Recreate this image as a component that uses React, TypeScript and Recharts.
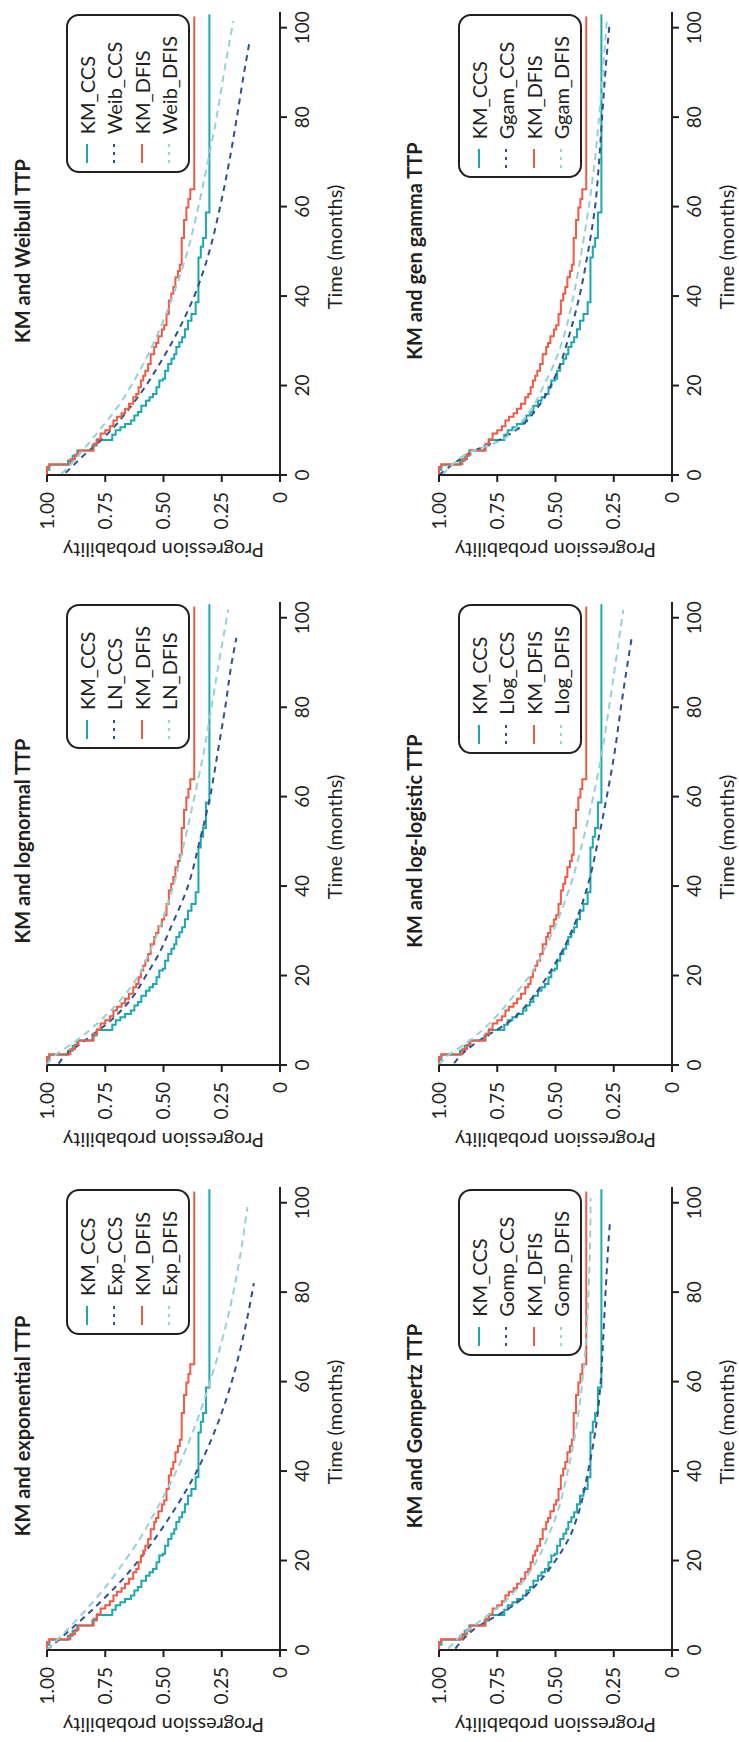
import { LineChart, Line, XAxis, YAxis, Legend } from "recharts";

type Pt = [number, number];

const INK = "#231f20";
const TEAL = "#1ba8ae";
const NAVY = "#2f4f8f";
const RED = "#ef5b45";
const SKY = "#97d0d7";

const timeTicks = [0, 20, 40, 60, 80, 100];
const probTicks = [0, 0.25, 0.5, 0.75, 1];

// Kaplan-Meier steps, same in all six panels
const kmCcs: Pt[] = [
  [0, 1], [1.2, 0.99], [2.3, 0.91], [3.2, 0.89], [4.3, 0.87], [5.5, 0.805], [6.6, 0.787],
  [7.8, 0.72], [9, 0.705], [10, 0.685], [10.7, 0.665], [11.4, 0.64], [12.2, 0.625],
  [13.3, 0.61], [14.1, 0.595], [15.5, 0.575], [16.6, 0.56], [17.4, 0.545], [18.1, 0.53],
  [19.6, 0.518], [21.1, 0.503], [21.5, 0.493], [23.3, 0.48], [24.8, 0.466], [26, 0.454],
  [27, 0.445], [28.6, 0.432], [29.7, 0.42], [30.8, 0.408], [32.6, 0.395], [34.5, 0.38],
  [36, 0.362], [38.6, 0.35], [48.6, 0.34], [51, 0.33], [53, 0.318], [58.7, 0.303], [103, 0.303],
];
const kmDfis: Pt[] = [
  [0, 1], [1.8, 0.99], [2.4, 0.9], [3.5, 0.88], [4.5, 0.865], [5.5, 0.8], [7, 0.785],
  [8, 0.77], [9.3, 0.75], [10, 0.73], [10.9, 0.715], [12.2, 0.7], [13, 0.68], [13.8, 0.665],
  [14.8, 0.648], [15.9, 0.63], [17.4, 0.617], [18.1, 0.607], [19.6, 0.597], [21.1, 0.587],
  [22.2, 0.578], [23.3, 0.566], [24.8, 0.555], [27, 0.54], [28.6, 0.532], [29.5, 0.522],
  [31, 0.507], [32.5, 0.497], [33.5, 0.487], [36, 0.477], [39, 0.467], [40.5, 0.458],
  [42, 0.449], [44.2, 0.438], [45.6, 0.43], [47, 0.422], [53, 0.412], [57, 0.402],
  [59.8, 0.393], [61.7, 0.385], [63.9, 0.368], [102.5, 0.368],
];

// fitted curves
const expCcs: Pt[] = [
  [0, 1], [5, 0.89], [10, 0.785], [15, 0.69], [20, 0.607], [25, 0.535], [30, 0.47],
  [40, 0.357], [50, 0.272], [60, 0.207], [70, 0.158], [82, 0.112],
];
const expDfis: Pt[] = [
  [0, 1], [5, 0.905], [10, 0.815], [15, 0.735], [20, 0.665], [25, 0.6], [30, 0.545],
  [40, 0.445], [50, 0.365], [60, 0.3], [70, 0.245], [80, 0.2], [90, 0.165], [99, 0.14],
];
const lnCcs: Pt[] = [
  [0.3, 0.95], [2, 0.925], [5, 0.85], [10, 0.725], [15, 0.635], [20, 0.575], [25, 0.518],
  [30, 0.475], [40, 0.395], [50, 0.345], [60, 0.3], [70, 0.267], [80, 0.235], [90, 0.207],
  [95.5, 0.187],
];
const lnDfis: Pt[] = [
  [0, 1], [2, 0.97], [5, 0.885], [10, 0.77], [15, 0.677], [20, 0.607], [25, 0.562],
  [30, 0.522], [40, 0.458], [50, 0.41], [60, 0.367], [70, 0.327], [80, 0.294], [90, 0.262],
  [101.8, 0.222],
];
const weibCcs: Pt[] = [
  [0.5, 0.92], [2, 0.89], [5, 0.83], [7, 0.785], [10, 0.725], [15, 0.645], [20, 0.575],
  [25, 0.515], [30, 0.46], [40, 0.368], [50, 0.303], [60, 0.257], [70, 0.218], [80, 0.185],
  [90, 0.154], [96.5, 0.132],
];
const weibDfis: Pt[] = [
  [0.2, 0.94], [2, 0.905], [5, 0.855], [10, 0.775], [15, 0.7], [20, 0.638], [25, 0.585],
  [30, 0.538], [40, 0.46], [50, 0.397], [60, 0.35], [70, 0.31], [80, 0.272], [90, 0.24],
  [101.5, 0.2],
];
const gompCcs: Pt[] = [
  [0.3, 0.93], [3, 0.885], [5, 0.84], [8, 0.74], [10, 0.68], [15, 0.575], [20, 0.5],
  [25, 0.442], [30, 0.405], [40, 0.36], [50, 0.326], [60, 0.306], [70, 0.295], [80, 0.285],
  [90, 0.274], [96, 0.266],
];
const gompDfis: Pt[] = [
  [0.3, 0.96], [3, 0.91], [5, 0.862], [8, 0.785], [10, 0.735], [15, 0.645], [20, 0.58],
  [25, 0.535], [30, 0.497], [40, 0.447], [50, 0.41], [60, 0.385], [70, 0.368], [80, 0.358],
  [90, 0.352], [101, 0.349],
];
const llogCcs: Pt[] = [
  [0.4, 0.935], [2, 0.91], [5, 0.84], [10, 0.69], [15, 0.6], [20, 0.533], [25, 0.476],
  [30, 0.43], [40, 0.362], [50, 0.318], [60, 0.28], [70, 0.246], [80, 0.219], [90, 0.19],
  [95.5, 0.173],
];
const llogDfis: Pt[] = [
  [0, 1], [2, 0.965], [5, 0.88], [10, 0.77], [15, 0.687], [20, 0.61], [25, 0.556],
  [30, 0.51], [40, 0.437], [50, 0.383], [60, 0.338], [70, 0.3], [80, 0.27], [90, 0.242],
  [101.8, 0.209],
];
const ggamCcs: Pt[] = [
  [0, 1], [2, 0.95], [5, 0.865], [8, 0.735], [10, 0.67], [15, 0.578], [20, 0.52],
  [25, 0.478], [30, 0.448], [40, 0.397], [50, 0.36], [60, 0.33], [70, 0.313], [80, 0.3],
  [90, 0.286], [101, 0.268],
];
const ggamDfis: Pt[] = [
  [0, 0.985], [2, 0.95], [5, 0.87], [8, 0.725], [10, 0.68], [15, 0.6], [20, 0.55],
  [25, 0.505], [30, 0.47], [40, 0.423], [50, 0.388], [60, 0.357], [70, 0.332], [80, 0.313],
  [90, 0.297], [101.5, 0.28],
];

// chart box geometry (landscape, before the page rotation)
const W = 590;
const H = 370;
const PL = 100;
const PT = 47;
const PW = 463;
const PH = 233;

const panels = [
  { title: "KM and exponential TTP", prefix: "Exp", ccs: expCcs, dfis: expDfis, left: -8, top: 0 },
  { title: "KM and lognormal TTP", prefix: "LN", ccs: lnCcs, dfis: lnDfis, left: 577, top: 0 },
  { title: "KM and Weibull TTP", prefix: "Weib", ccs: weibCcs, dfis: weibDfis, left: 1167, top: 0 },
  { title: "KM and Gompertz TTP", prefix: "Gomp", ccs: gompCcs, dfis: gompDfis, left: -8, top: 392 },
  { title: "KM and log-logistic TTP", prefix: "Llog", ccs: llogCcs, dfis: llogDfis, left: 577, top: 392 },
  { title: "KM and gen gamma TTP", prefix: "Ggam", ccs: ggamCcs, dfis: ggamDfis, left: 1167, top: 392 },
];

interface SeriesDef {
  name: string;
  data: Pt[];
  color: string;
  dash?: string;
  step?: boolean;
}

function LegendBox({ items }: { items: SeriesDef[] }) {
  return (
    <div
      style={{
        border: `2px solid ${INK}`,
        borderRadius: 13,
        padding: "5px 20px 5px 8px",
        fontFamily: "Lato, sans-serif",
        fontSize: 20,
        color: INK,
      }}
    >
      {items.map((it) => (
        <div key={it.name} style={{ display: "flex", alignItems: "center", height: 27.5, whiteSpace: "nowrap" }}>
          <svg width={19} height={6} style={{ marginRight: 10 }}>
            <line
              x1={0}
              y1={3}
              x2={19}
              y2={3}
              stroke={it.color}
              strokeWidth={2}
              strokeDasharray={it.dash ? "3 5" : undefined}
            />
          </svg>
          <span>{it.name}</span>
        </div>
      ))}
    </div>
  );
}

function Panel({ title, prefix, ccs, dfis, left, top }: (typeof panels)[number]) {
  const series: SeriesDef[] = [
    { name: "KM_CCS", data: kmCcs, color: TEAL, step: true },
    { name: `${prefix}_CCS`, data: ccs, color: NAVY, dash: "6 5" },
    { name: "KM_DFIS", data: kmDfis, color: RED, step: true },
    { name: `${prefix}_DFIS`, data: dfis, color: SKY, dash: "7 5" },
  ];

  return (
    <div style={{ position: "absolute", left, top, width: W, height: H }}>
      <div
        style={{
          position: "absolute",
          left: PL + 224 - 170,
          width: 340,
          top: 12,
          textAlign: "center",
          fontWeight: 700,
          fontSize: 20,
          lineHeight: "20px",
          color: INK,
        }}
      >
        {title}
      </div>
      <LineChart width={W} height={H} margin={{ top: PT, right: W - PL - PW, bottom: 20, left: 10 }}>
        <XAxis
          type="number"
          dataKey="t"
          domain={[0, 103.5]}
          ticks={timeTicks}
          height={H - PT - PH - 20}
          tickSize={7}
          tickMargin={9}
          axisLine={{ stroke: INK, strokeWidth: 2 }}
          tickLine={{ stroke: INK, strokeWidth: 2 }}
          tick={{ fontSize: 19, fill: INK, fontFamily: "Lato" }}
          label={({ viewBox }: any) => (
            <text
              x={viewBox.x + 228}
              y={viewBox.y + 62}
              textAnchor="middle"
              fontSize={20}
              fontFamily="Lato"
              fill={INK}
            >
              Time (months)
            </text>
          )}
        />
        <YAxis
          type="number"
          domain={[0, 1]}
          ticks={probTicks}
          width={PL - 10}
          tickSize={7}
          tickMargin={10}
          tickFormatter={(v) => (v === 0 ? "0" : Number(v).toFixed(2))}
          axisLine={{ stroke: INK, strokeWidth: 2 }}
          tickLine={{ stroke: INK, strokeWidth: 2 }}
          tick={{ fontSize: 19, fill: INK, fontFamily: "Lato" }}
          label={({ viewBox }: any) => {
            const cx = viewBox.x + viewBox.width - 76;
            const cy = viewBox.y + viewBox.height / 2;
            return (
              <text
                x={cx}
                y={cy}
                transform={`rotate(-90 ${cx} ${cy})`}
                textAnchor="middle"
                dominantBaseline="central"
                fontSize={20}
                fontFamily="Lato"
                fill={INK}
              >
                Progression probability
              </text>
            );
          }}
        />
        <Legend
          layout="horizontal"
          verticalAlign="middle"
          align="center"
          content={() => <LegendBox items={series} />}
          wrapperStyle={{ left: "auto", right: W - PL - 461, top: PT + 19, width: "auto", height: "auto" }}
        />
        {series.map((s) => (
          <Line
            key={s.name}
            data={s.data.map(([t, v]) => ({ t, s: v }))}
            dataKey="s"
            type={s.step ? "stepAfter" : "monotone"}
            stroke={s.color}
            strokeWidth={2}
            strokeDasharray={s.dash}
            dot={false}
            activeDot={false}
            isAnimationActive={false}
          />
        ))}
      </LineChart>
    </div>
  );
}

export default function App() {
  return (
    <div
      style={{
        position: "absolute",
        left: 0,
        top: 0,
        width: 739,
        height: 1742,
        overflow: "hidden",
        background: "#fff",
      }}
    >
      <div
        style={{
          position: "absolute",
          left: 0,
          top: 0,
          width: 1742,
          height: 739,
          transformOrigin: "0 0",
          transform: "translateY(1742px) rotate(-90deg)",
          fontFamily: "Lato, sans-serif",
          color: INK,
        }}
      >
        {panels.map((p) => (
          <Panel key={p.title} {...p} />
        ))}
      </div>
    </div>
  );
}
